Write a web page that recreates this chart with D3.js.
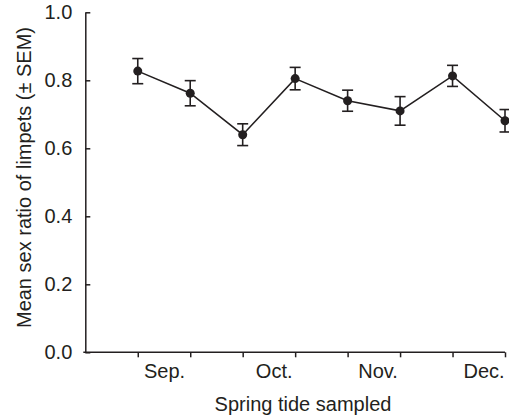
<!DOCTYPE html>
<html>
<head>
<meta charset="utf-8">
<script src="https://cdn.jsdelivr.net/npm/d3@7"></script>
<style>
  body { margin: 0; background: #fff; }
  svg { display: block; font-family: "Liberation Sans", Arial, sans-serif; }
</style>
</head>
<body>
<svg width="509" height="420"></svg>
<script>
// sample index (spring tide number), mean sex ratio, SEM
const tides = [1, 2, 3, 4, 5, 6, 7, 8];
const means = [0.827, 0.762, 0.640, 0.805, 0.740, 0.710, 0.813, 0.681];
const sems = [0.037, 0.037, 0.032, 0.033, 0.031, 0.042, 0.031, 0.033];
const months = ["Sep.", "Oct.", "Nov.", "Dec."];
const monthPos = [1.51, 3.6, 5.58, 7.6];
const yTicks = [0, 0.2, 0.4, 0.6, 0.8, 1.0];

document.addEventListener('DOMContentLoaded', function() {
    const svg = d3.select("svg");
    const ink = "#231f20";
    const fontSize = "20px";

    const x = d3.scaleLinear().domain([0, 8]).range([85.3, 505]);
    const y = d3.scaleLinear().domain([0, 1]).range([352.3, 12.3]);

    // y axis, ticks point inward
    const yAxis = svg.append("g")
        .attr("transform", `translate(${x(0)},0)`)
        .call(d3.axisLeft(y).tickValues(yTicks).tickFormat(d3.format(".1f"))
            .tickSizeInner(-5).tickSizeOuter(0).tickPadding(13));

    // x axis, ticks at every spring tide, no numbers
    const xAxis = svg.append("g")
        .attr("transform", `translate(0,${y(0)})`)
        .call(d3.axisBottom(x).tickValues(tides).tickFormat("")
            .tickSize(5).tickSizeOuter(0));

    [yAxis, xAxis].forEach(g => {
        g.select(".domain").attr("stroke", ink).attr("stroke-width", 1.5);
        g.selectAll(".tick line").attr("stroke", ink).attr("stroke-width", 1.5);
        g.selectAll("text").attr("fill", ink).style("font-size", fontSize);
    });
    xAxis.select(".domain").attr("d", `M${x(0) - 2},0H${x(8)}`);

    // month labels
    svg.append("g")
        .selectAll("text")
        .data(months)
        .join("text")
        .attr("x", (d, i) => x(monthPos[i]))
        .attr("y", 378)
        .attr("text-anchor", "middle")
        .attr("fill", ink)
        .style("font-size", fontSize)
        .text(d => d);

    // axis titles
    svg.append("text")
        .attr("x", 303)
        .attr("y", 411)
        .attr("text-anchor", "middle")
        .attr("fill", ink)
        .style("font-size", fontSize)
        .text("Spring tide sampled");

    svg.append("text")
        .attr("transform", "translate(31,177.5) rotate(-90)")
        .attr("text-anchor", "middle")
        .attr("fill", ink)
        .style("font-size", fontSize)
        .text("Mean sex ratio of limpets (\u00b1 SEM)");

    const data = tides.map((t, i) => ({ t: t, m: means[i], s: sems[i] }));

    // connecting line
    svg.append("path")
        .datum(data)
        .attr("fill", "none")
        .attr("stroke", ink)
        .attr("stroke-width", 1.6)
        .attr("d", d3.line().x(d => x(d.t)).y(d => y(d.m)));

    // error bars
    const eb = svg.append("g")
        .selectAll("g")
        .data(data)
        .join("g")
        .attr("stroke", ink)
        .attr("stroke-width", 1.6);
    eb.append("line")
        .attr("x1", d => x(d.t)).attr("x2", d => x(d.t))
        .attr("y1", d => y(d.m - d.s)).attr("y2", d => y(d.m + d.s));
    eb.append("line")
        .attr("x1", d => x(d.t) - 5.5).attr("x2", d => x(d.t) + 5.5)
        .attr("y1", d => y(d.m + d.s)).attr("y2", d => y(d.m + d.s));
    eb.append("line")
        .attr("x1", d => x(d.t) - 5.5).attr("x2", d => x(d.t) + 5.5)
        .attr("y1", d => y(d.m - d.s)).attr("y2", d => y(d.m - d.s));

    // points
    svg.append("g")
        .selectAll("circle")
        .data(data)
        .join("circle")
        .attr("cx", d => x(d.t))
        .attr("cy", d => y(d.m))
        .attr("r", 4.5)
        .attr("fill", ink);
});
</script>
</body>
</html>
